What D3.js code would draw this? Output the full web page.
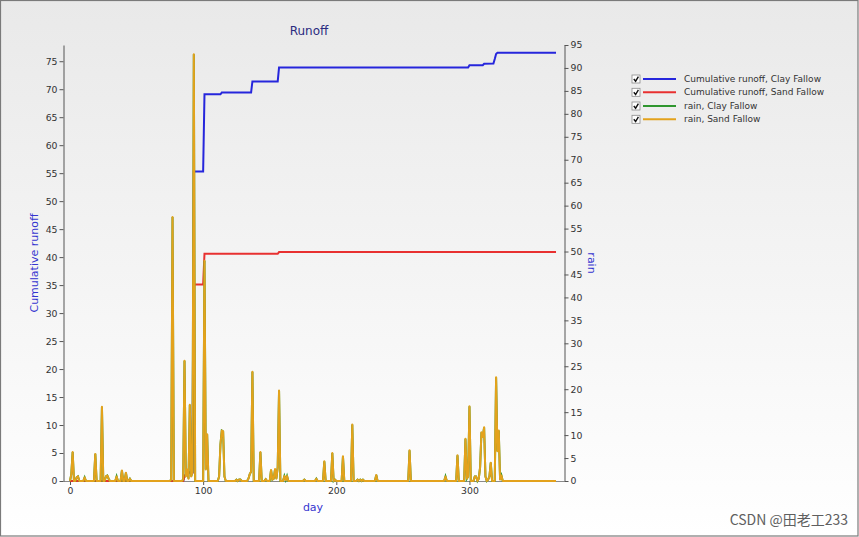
<!DOCTYPE html>
<html><head><meta charset="utf-8">
<script src="https://cdn.jsdelivr.net/npm/d3@7"></script>
<style>html,body{margin:0;padding:0;background:#fff;} svg{display:block;}</style>
</head><body><svg id="c" width="859" height="537"></svg>
<script>
// ---- data ----
// daily rain (mm), day 0 .. 365
const rain = [
  0, 1.5, 6.3, 0, 0, 0.8, 1.0, 0, 0, 0,
  0, 0.8, 0, 0, 0, 0, 0, 0, 0, 5.9,
  0, 0, 0, 0, 16.2, 0, 0, 1.0, 1.2, 0.5,
  0, 0, 0, 0, 0, 1.0, 0, 0, 0, 2.3,
  0, 0, 1.8, 0, 0, 0.5, 0, 0, 0, 0,
  0, 0, 0, 0, 0, 0, 0, 0, 0, 0,
  0, 0, 0, 0, 0, 0, 0, 0, 0, 0,
  0, 0, 0, 0, 0, 0, 0.3, 57.5, 0, 0,
  0, 0, 0, 0, 0, 0.3, 26.2, 1.0, 2.5, 0.5,
  16.6, 1.0, 2.0, 93.0, 0, 0, 0, 0, 0, 0,
  0, 48.0, 2.5, 10.2, 0, 0, 0, 0, 0, 0,
  0, 0, 1.0, 8.0, 11.0, 10.8, 1.0, 0, 0, 0,
  0, 0, 0, 0, 0, 0.3, 0, 0.3, 0.3, 0,
  0, 0, 0, 0, 0.5, 1.5, 2.0, 23.8, 0, 0,
  0, 0, 0, 6.3, 0, 0, 0, 0.4, 0, 0,
  0, 2.4, 0.3, 0.5, 2.6, 0.5, 3.0, 19.7, 0, 0,
  0, 1.1, 0.2, 1.1, 0, 0, 0, 0, 0, 0,
  0, 0, 0, 0, 0, 0, 0.3, 0, 0, 0,
  0, 0, 0, 0, 0, 0.5, 0, 0, 0, 0,
  0, 4.3, 0, 0, 0, 0, 0, 6.1, 0, 0.3,
  0, 0, 0, 0, 0, 5.4, 0, 0, 0, 0,
  0, 0, 12.3, 0, 0, 0, 0.3, 0, 0.3, 0,
  0.3, 0, 0, 0, 0, 0, 0, 0, 0, 0,
  1.3, 0, 0, 0, 0, 0, 0, 0, 0, 0,
  0, 0, 0, 0, 0, 0, 0, 0, 0, 0,
  0, 0, 0, 0, 0, 6.7, 0, 0, 0, 0,
  0, 0, 0, 0, 0, 0, 0, 0, 0, 0,
  0, 0, 0, 0, 0, 0, 0, 0, 0, 0,
  0, 0, 1.0, 0, 0, 0, 0, 0, 0, 0,
  0, 5.6, 0, 0, 0, 0, 0, 9.2, 0.5, 1.0,
  16.3, 0, 0, 0, 1.0, 1.0, 0, 0.5, 3.0, 10.6,
  9.6, 11.7, 1.0, 0, 0.3, 1.0, 4.0, 0, 0, 0,
  22.6, 6.5, 11.0, 0.3, 1.2, 0, 0, 0, 0, 0,
  0, 0, 0, 0, 0, 0, 0, 0, 0, 0,
  0, 0, 0, 0, 0, 0, 0, 0, 0, 0,
  0, 0, 0, 0, 0, 0, 0, 0, 0, 0,
  0, 0, 0, 0, 0, 0
];
const rainFirstDay = 0;

// cumulative runoff (mm) at the days where it changes
const clayDays   = [0, 85, 86, 88, 92, 93, 100, 101, 113, 114, 136, 137, 156, 157, 299, 300, 310, 311, 318, 319, 320, 321, 365];
const clayRunoff = [0, 0, 0.8, 1.5, 1.5, 55.3, 55.3, 69.1, 69.1, 69.4, 69.4, 71.4, 71.4, 73.9, 73.9, 74.3, 74.3, 74.55, 74.6, 75.4, 76.3, 76.5, 76.5];
const sandDays   = [0, 85, 86, 88, 92, 93, 100, 101, 156, 157, 365];
const sandRunoff = [0, 0, 0.8, 1.5, 1.5, 35.1, 35.1, 40.6, 40.6, 40.9, 40.9];

const leftTicks  = [0,5,10,15,20,25,30,35,40,45,50,55,60,65,70,75];
const rightTicks = [0,5,10,15,20,25,30,35,40,45,50,55,60,65,70,75,80,85,90,95];
const xTicks     = [0,100,200,300];

const seriesNames  = ["Cumulative runoff, Clay Fallow", "Cumulative runoff, Sand Fallow", "rain, Clay Fallow", "rain, Sand Fallow"];
const seriesColors = ["#2626dc", "#e83030", "#2f962f", "#e3a21c"];

const titleText = "Runoff", xTitle = "day", yLeftTitle = "Cumulative runoff", yRightTitle = "rain";

// ---- drawing ----
const svg = d3.select("#c");
const W = 859, H = 537;
const defs = svg.append("defs");
const grad = defs.append("linearGradient").attr("id","bg").attr("x1",0).attr("y1",0).attr("x2",0).attr("y2",1);
grad.append("stop").attr("offset","0%").attr("stop-color","#e9e9e9");
grad.append("stop").attr("offset","100%").attr("stop-color","#ffffff");
svg.append("rect").attr("x",0.5).attr("y",0.5).attr("width",W-1.5).attr("height",H-1.5)
  .attr("fill","url(#bg)").attr("stroke","#7a7a7a").attr("stroke-width",1.2);

const FONT = "Verdana, 'DejaVu Sans', sans-serif";
const x  = d3.scaleLinear().domain([-5.25, 371]).range([63, 564]);
const yL = d3.scaleLinear().domain([0, 77.9]).range([481, 45]);
const yR = d3.scaleLinear().domain([0, 95]).range([481, 45]);

function styleAxis(g, col) {
  g.selectAll("text").attr("font-family", FONT).attr("font-size", 9.3).attr("fill", "#333");
  g.selectAll("line").attr("stroke", "#555");
  g.select(".domain").attr("stroke", col || "#555");
}

// lines
const clayPts = clayDays.map((d,i)=>[d, clayRunoff[i]]);
const sandPts = sandDays.map((d,i)=>[d, sandRunoff[i]]);
const rainPts = rain.map((v,i)=>[rainFirstDay + i, v]);
const lineL = d3.line().x(d=>x(d[0])).y(d=>yL(d[1]));
const lineR = d3.line().x(d=>x(d[0])).y(d=>yR(d[1]));

const gx = svg.append("g").attr("transform","translate(0,481)")
  .call(d3.axisBottom(x).tickValues(xTicks).tickSize(4).tickSizeOuter(0).tickPadding(2));
styleAxis(gx, "#8a8a8a");

const plot = svg.append("g");
plot.append("path").datum(clayPts).attr("d", lineL).attr("fill","none").attr("stroke", seriesColors[0]).attr("stroke-width", 2);
plot.append("path").datum(sandPts).attr("d", lineL).attr("fill","none").attr("stroke", seriesColors[1]).attr("stroke-width", 2);
plot.append("path").datum(rainPts).attr("d", lineR).attr("fill","none").attr("stroke", seriesColors[2]).attr("stroke-width", 2);
plot.append("path").datum(rainPts).attr("d", lineR).attr("fill","none").attr("stroke", seriesColors[3]).attr("stroke-width", 2).attr("stroke-linejoin","round");

const gl = svg.append("g").attr("transform","translate(63.5,0)")
  .call(d3.axisLeft(yL).tickValues(leftTicks).tickSize(4).tickSizeOuter(0).tickPadding(2));
styleAxis(gl);
const gr = svg.append("g").attr("transform","translate(564.5,0)")
  .call(d3.axisRight(yR).tickValues(rightTicks).tickSize(4).tickSizeOuter(0).tickPadding(2));
styleAxis(gr);

// titles
svg.append("text").attr("x", 309).attr("y", 35).attr("text-anchor","middle")
  .attr("font-family", FONT).attr("font-size", 12).attr("fill", "#2a2a80").text(titleText);
svg.append("text").attr("x", 313).attr("y", 511).attr("text-anchor","middle")
  .attr("font-family", FONT).attr("font-size", 11).attr("fill", "#3535d0").text(xTitle);
svg.append("text").attr("transform","translate(38,263) rotate(-90)").attr("text-anchor","middle")
  .attr("font-family", FONT).attr("font-size", 11).attr("fill", "#3535d0").text(yLeftTitle);
svg.append("text").attr("transform","translate(588,263) rotate(90)").attr("text-anchor","middle")
  .attr("font-family", FONT).attr("font-size", 11).attr("fill", "#3535d0").text(yRightTitle);

// legend
const leg = svg.append("g");
const rowY = [79, 92.3, 106, 119.3];
seriesNames.forEach((n,i)=>{
  const g = leg.append("g").attr("transform", `translate(0,${rowY[i]})`);
  g.append("rect").attr("x", 632).attr("y", -4).attr("width", 8).attr("height", 8)
    .attr("fill", "#fff").attr("stroke", "#8a8a8a").attr("stroke-width", 0.8);
  g.append("path").attr("d", "M633.8,0 L635.6,2.2 L638.4,-2.4").attr("fill","none")
    .attr("stroke", "#111").attr("stroke-width", 1.4);
  g.append("line").attr("x1", 643).attr("x2", 676).attr("y1", 0).attr("y2", 0)
    .attr("stroke", seriesColors[i]).attr("stroke-width", 2);
  g.append("text").attr("x", 684).attr("y", 3).attr("font-family", FONT).attr("font-size", 9)
    .attr("fill", "#333").text(n);
});

// watermark
svg.append("text").attr("x", 848).attr("y", 525).attr("text-anchor","end")
  .attr("font-family", "'Noto Sans CJK SC', sans-serif").attr("font-size", 14)
  .attr("fill", "#444").attr("opacity", 0.85).text("CSDN @田老工233");
</script></body></html>
